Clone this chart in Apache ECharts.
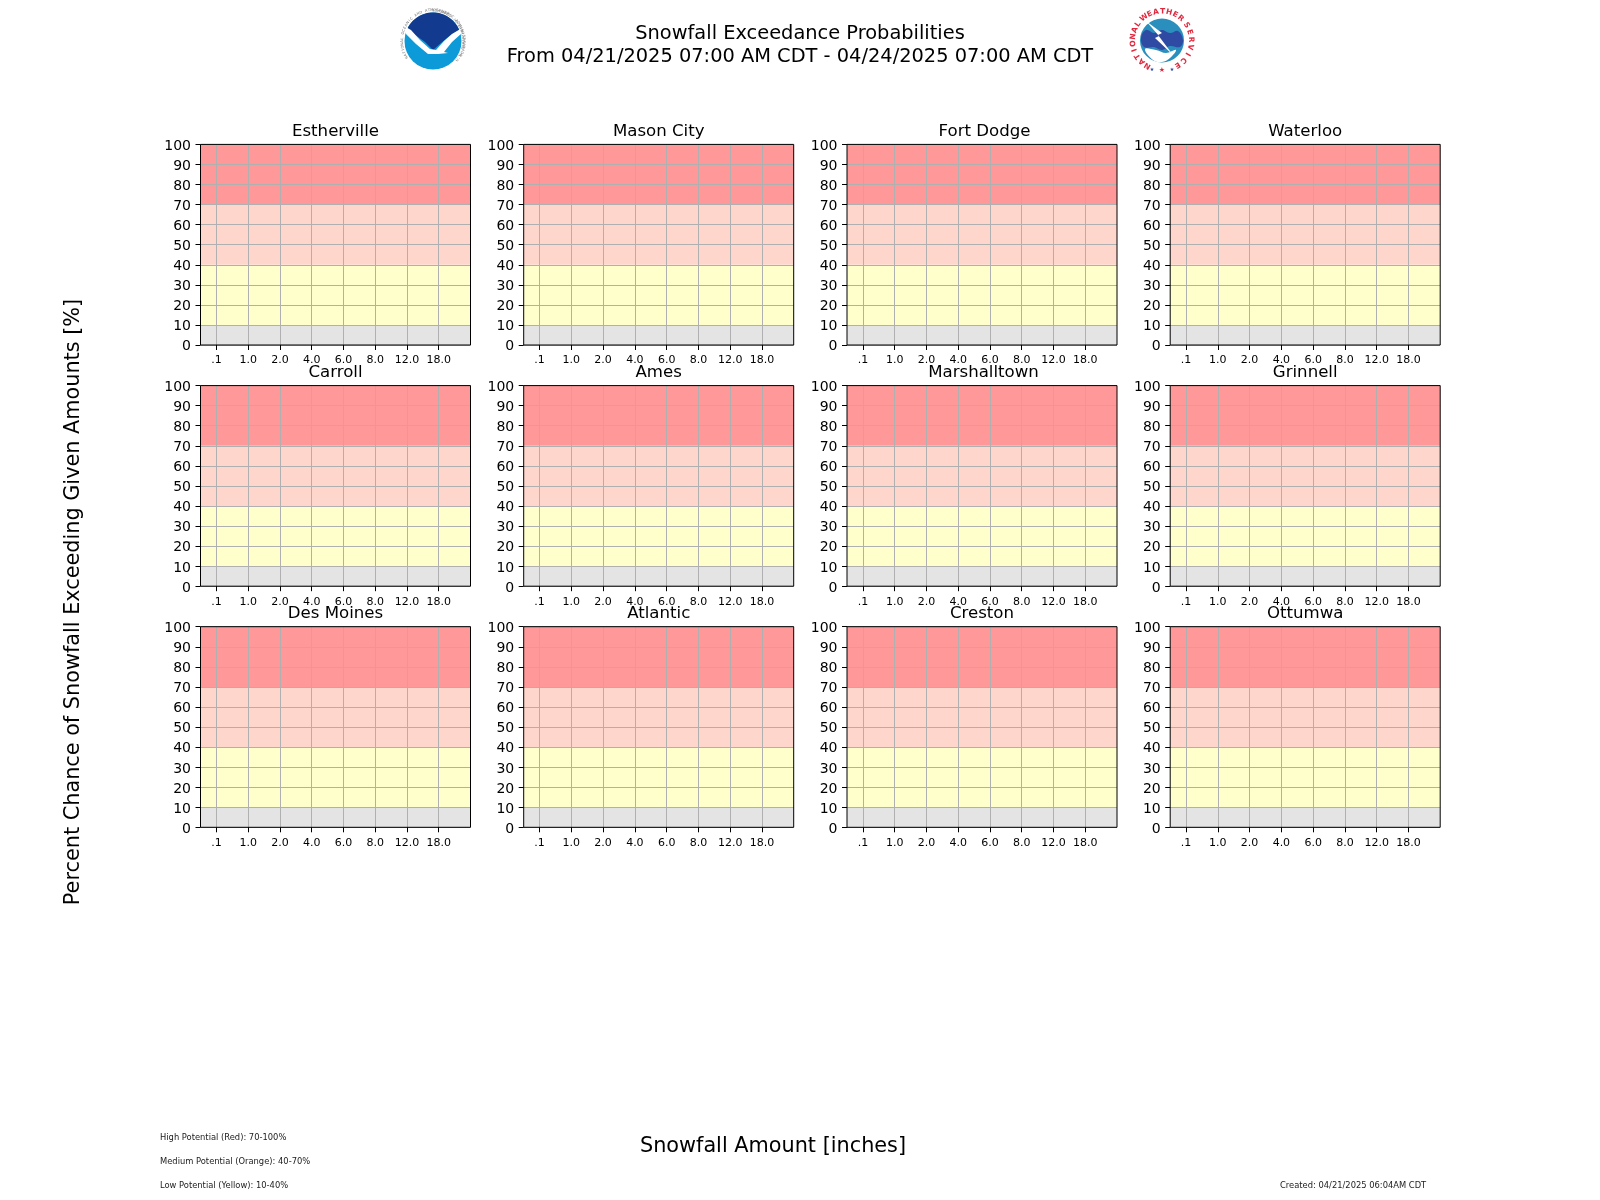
<!DOCTYPE html>
<html><head><meta charset="utf-8">
<style>html,body{margin:0;padding:0;background:#fff}#c{width:1600px;height:1200px}</style>
<script src="https://cdn.jsdelivr.net/npm/echarts@6/dist/echarts.min.js"></script>
</head><body><div id="c"></div>
<script>
const stations = ['Estherville','Mason City','Fort Dodge','Waterloo','Carroll','Ames','Marshalltown','Grinnell','Des Moines','Atlantic','Creston','Ottumwa'];
const snowfallLabels = ['.1','1.0','2.0','4.0','6.0','8.0','12.0','18.0'];
const exceedance = [0,0,0,0,0,0,0,0];
const bandFrom = [0,10,40,70];
const bandTo = [10,40,70,100];
const bandColors = ['#e4e4e4','#ffffcc','#ffd6cc','#ff9999'];
const yTicksMax = 100;
const titleLines = 'Snowfall Exceedance Probabilities\nFrom 04/21/2025 07:00 AM CDT - 04/24/2025 07:00 AM CDT';
const yName = 'Percent Chance of Snowfall Exceeding Given Amounts [%]';
const xName = 'Snowfall Amount [inches]';
const notes = ['High Potential (Red): 70-100%','Medium Potential (Orange): 40-70%','Low Potential (Yellow): 10-40%'];
const created = 'Created: 04/21/2025 06:04AM CDT';

const F = 'DejaVu Sans';
const lefts = [200.5, 523.7, 847, 1170.2], tops = [144.4, 385.6, 626.7], W = 270, H = 200.6;
const titleTops = [123.4, 364.6, 604.7];
const titleNudge = {'Fort Dodge':2.5,'Marshalltown':1.5};
const grid=[],xAxis=[],yAxis=[],series=[],title=[];
stations.forEach((s,i)=>{
  const r=Math.floor(i/4), l=lefts[i%4], t=tops[r];
  grid.push({left:l,top:t,width:W,height:H,show:true,backgroundColor:'transparent',borderColor:'#000',borderWidth:1,z:6});
  xAxis.push({type:'value',gridIndex:i,min:-0.5,max:8,z:5,
    axisLine:{show:false,onZero:false},
    axisTick:{show:true,customValues:[0,1,2,3,4,5,6,7],length:5,lineStyle:{color:'#000',width:1}},
    axisLabel:{customValues:[0,1,2,3,4,5,6,7],formatter:v=>snowfallLabels[v],fontFamily:F,fontSize:11,color:'#000',margin:10,hideOverlap:false},
    splitLine:{show:true,lineStyle:{color:'#b0b0b0',width:1}}});
  yAxis.push({type:'value',gridIndex:i,min:0,max:yTicksMax,interval:10,z:5,
    axisLine:{show:false,onZero:false},
    axisTick:{show:true,length:5,lineStyle:{color:'#000',width:1}},
    axisLabel:{fontFamily:F,fontSize:14,color:'#000',margin:9.5,verticalAlign:'top',lineHeight:3.5},
    splitLine:{show:true,lineStyle:{color:'#b0b0b0',width:1}}});
  series.push({type:'bar',xAxisIndex:i,yAxisIndex:i,z:1,silent:true,
    data:exceedance.map((v,k)=>[k,v]),barWidth:1,itemStyle:{color:'#ff9999'},
    markArea:{silent:true,z:1,data:bandFrom.map((b,k)=>[{yAxis:b,itemStyle:{color:bandColors[k],opacity:1}},{yAxis:bandTo[k]}])}});
  title.push({text:s,left:l+W/2+(titleNudge[s]||0),top:titleTops[r],padding:0,textAlign:'center',textStyle:{fontFamily:F,fontSize:16.6,fontWeight:'normal',color:'#000'}});
});
title.push({text:titleLines,left:800,top:23,padding:0,textAlign:'center',textStyle:{fontFamily:F,fontSize:19.4,lineHeight:22.5,fontWeight:'normal',color:'#000'}});

const g=[];
const txt=(text,x,y,size,o={})=>g.push({type:'text',x,y,rotation:o.rot||0,z:10,silent:true,style:{text,fontFamily:o.font||F,fontSize:size,fill:o.fill||'#000',fontWeight:o.w||'normal',align:o.align||'center',verticalAlign:'middle'}});
txt(yName,73.5,602,20.8,{rot:Math.PI/2});
txt(xName,773,1147,20.8);
notes.forEach((n,i)=>txt(n,160,1138+i*24,8.35,{align:'left',fill:'#222'}));
txt(created,1280,1186,8.35,{align:'left',fill:'#222'});

// Logos (decoration)
const circle=(cx,cy,r,fill)=>g.push({type:'circle',z:10,silent:true,shape:{cx,cy,r},style:{fill}});
const poly=(points,fill,smooth)=>g.push({type:'polygon',z:11,silent:true,shape:{points,smooth:smooth||0},style:{fill}});
const ring=(str,cx,cy,r,startDeg,stepDeg,size,fill,bottom,w)=>{[...str].forEach((c,i)=>{
  const a=(startDeg+i*stepDeg)*Math.PI/180;
  g.push({type:'text',z:12,silent:true,x:cx+r*Math.sin(a),y:cy-r*Math.cos(a),rotation:bottom?Math.PI-a:-a,
    style:{text:c,fontFamily:F,fontSize:size,fontWeight:w||'normal',fill,align:'center',verticalAlign:'middle'}});
});};
// NOAA
const nx=433,ny=41;
circle(nx,ny,28.5,'#0c9ad8');
const arc=[];for(let d=-68;d<=68;d+=8){const a=d*Math.PI/180;arc.push([nx+28.5*Math.sin(a),ny-28.5*Math.cos(a)]);}
poly([...arc,[452,34],[441,43],[433,50],[425,42],[414,34]],'#123a8e');
poly([[404,26],[411,30],[420,40],[430,49],[436,50],[444,41],[452,34],[462,28],[462,33],[452,42],[444,52],[448,53],[438,54],[428,54],[416,44],[406,34]],'#ffffff');
ring('NATIONAL OCEANIC AND ATMOSPHERIC ADMINISTRATION',nx,ny,31,-122,5.2,3.6,'#777');
ring('U.S. DEPARTMENT OF COMMERCE',nx,ny,31,128,-4.9,3.6,'#777',true);
txt('NOAA',nx,ny-14,9,{fill:'#fff',w:'bold'});
// NWS
const wx=1162,wy=40.5;
circle(wx,wy,23,'#ffffff');
circle(wx,wy,22,'#2a8fbd');
poly([[1141,38],[1146,30],[1154,33],[1162,30],[1170,33],[1178,31],[1183,40],[1180,47],[1170,46],[1162,50],[1154,47],[1144,47]],'#2f4aa2',0.4);
poly([[1145,49],[1156,50],[1166,53],[1176,50],[1170,58],[1162,62],[1153,60]],'#ffffff',0.4);
poly([[1146,21],[1162,33],[1158,35],[1173,55],[1155,38],[1159,36]],'#ffffff');
ring('NATIONAL',wx,wy,29,-150,13.5,7.5,'#e2263c',false,'bold');
ring('WEATHER',wx,wy,29,-38,13,7.5,'#e2263c',false,'bold');
ring('SERVICE',wx,wy,29,58,15,7.5,'#e2263c',false,'bold');
txt('★',wx,wy+30,7,{fill:'#e2263c'});
txt('★',wx-10,wy+29,5,{fill:'#2f4aa2'});
txt('★',wx+10,wy+29,5,{fill:'#2f4aa2'});

const chart=echarts.init(document.getElementById('c'),null,{renderer:'canvas'});
chart.setOption({animation:false,backgroundColor:'#fff',title,grid,xAxis,yAxis,series,graphic:{elements:g},tooltip:{show:false}});
</script></body></html>
